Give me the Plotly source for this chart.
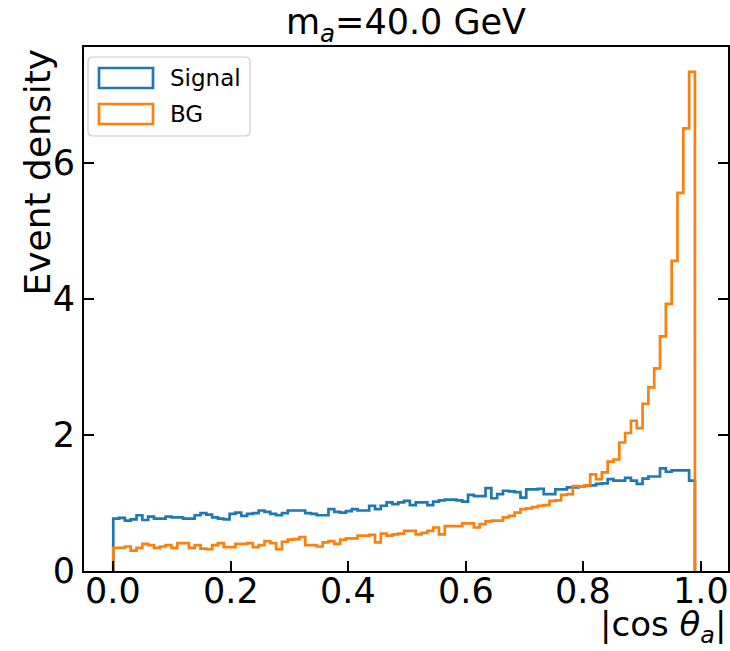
import numpy as np
import plotly.graph_objects as go

# ---- data ----
bin_lo = 0.0
bin_hi = 0.99
n_bins = 100

signal = [0.77, 0.78, 0.74, 0.76, 0.82, 0.75, 0.80, 0.77, 0.77, 0.80,
          0.79, 0.79, 0.77, 0.77, 0.82, 0.85, 0.83, 0.79, 0.77, 0.76,
          0.84, 0.86, 0.81, 0.84, 0.85, 0.89, 0.87, 0.84, 0.82, 0.85,
          0.89, 0.89, 0.89, 0.85, 0.84, 0.82, 0.82, 0.91, 0.87, 0.86,
          0.88, 0.91, 0.89, 0.89, 0.96, 0.91, 0.96, 1.01, 0.985, 1.01,
          1.03, 0.97, 1.01, 1.01, 0.97, 1.02, 1.04, 1.05, 1.05, 1.04,
          1.02, 1.12, 1.10, 1.10, 1.22, 1.07, 1.13, 1.18, 1.17, 1.16,
          1.08, 1.20, 1.20, 1.21, 1.13, 1.13, 1.20, 1.20, 1.23, 1.23,
          1.24, 1.25, 1.26, 1.28, 1.29, 1.35, 1.33, 1.33, 1.37, 1.33,
          1.28, 1.36, 1.39, 1.39, 1.51, 1.46, 1.48, 1.48, 1.48, 1.33]

bg = [0.34, 0.34, 0.36, 0.30, 0.34, 0.40, 0.38, 0.34, 0.36, 0.38,
      0.34, 0.41, 0.41, 0.34, 0.38, 0.33, 0.32, 0.38, 0.41, 0.35,
      0.35, 0.40, 0.40, 0.41, 0.35, 0.38, 0.44, 0.41, 0.32, 0.43,
      0.46, 0.47, 0.50, 0.38, 0.38, 0.36, 0.42, 0.44, 0.40, 0.46,
      0.48, 0.48, 0.52, 0.52, 0.53, 0.42, 0.55, 0.52, 0.54, 0.55,
      0.59, 0.59, 0.54, 0.56, 0.59, 0.64, 0.54, 0.66, 0.66, 0.66,
      0.70, 0.70, 0.64, 0.69, 0.73, 0.74, 0.74, 0.79, 0.81, 0.86,
      0.91, 0.92, 0.94, 0.96, 0.97, 1.03, 1.04, 1.12, 1.13, 1.25,
      1.24, 1.26, 1.42, 1.35, 1.45, 1.61, 1.64, 1.89, 2.03, 2.21,
      2.10, 2.46, 2.70, 2.98, 3.45, 3.93, 4.56, 5.56, 6.51, 7.34]

series_names = ["Signal", "BG"]
series_colors = ["#1f77b4", "#ff7f0e"]
x_ticks = [0.0, 0.2, 0.4, 0.6, 0.8, 1.0]
x_ticktext = ["0.0", "0.2", "0.4", "0.6", "0.8", "1.0"]
y_ticks = [0, 2, 4, 6]
y_ticktext = ["0", "2", "4", "6"]

# ---- figure geometry ----
W, H = 730, 651
ML, MR, MT, MB = 84, 2, 47, 80
PW, PH = W - ML - MR, H - MT - MB
FONT = "DejaVu Sans"


def px_x(px):
    return (px - ML) / PW


def px_y(py):
    return (H - MB - py) / PH


edges = np.linspace(bin_lo, bin_hi, n_bins + 1)


def step_xy(vals):
    vals = np.asarray(vals, dtype=float)
    x = np.concatenate([[edges[0]], edges[:-1], [edges[-1], edges[-1]]])
    y = np.concatenate([[0.0], vals, [vals[-1], 0.0]])
    return x, y


fig = go.Figure()
for name, vals, col in zip(series_names, [signal, bg], series_colors):
    x, y = step_xy(vals)
    fig.add_trace(go.Scatter(x=x, y=y, mode="lines", line=dict(color=col, width=2.7, shape="hv"),
                             name=name, showlegend=False, cliponaxis=True))

ymax = max(max(signal), max(bg)) * 1.05

fig.update_layout(
    width=W, height=H,
    margin=dict(l=ML, r=MR, t=MT, b=MB, pad=0, autoexpand=False),
    paper_bgcolor="white", plot_bgcolor="white",
    font=dict(family=FONT, color="black"),
    title=dict(text="m<sub><i>a</i></sub>=40.0 GeV", x=(ML + PW / 2) / W,
               xanchor="center", y=1 - 22 / H, yanchor="middle",
               font=dict(size=35, family=FONT, color="black")),
    showlegend=False,
)

fig.update_xaxes(range=[-0.0498, 1.0463], tickvals=x_ticks, ticktext=x_ticktext,
                 showticklabels=False,
                 ticks="inside", ticklen=10, tickwidth=1.6, tickcolor="black",
                 showline=True, linewidth=2, linecolor="black", mirror=True, automargin=False,
                 showgrid=False, zeroline=False)
fig.update_yaxes(range=[0, ymax], tickvals=y_ticks, ticktext=y_ticktext,
                 ticks="inside", ticklen=10, tickwidth=1.6, tickcolor="black",
                 showline=True, linewidth=2, linecolor="black", mirror="ticks", automargin=False,
                 showgrid=False, zeroline=False, tickfont=dict(size=35, family=FONT))

# x tick labels, placed tight under the axis as matplotlib does
for tv, tt in zip(x_ticks, x_ticktext):
    fig.add_annotation(text=tt, xref="x", yref="paper", x=tv, y=px_y(569),
                       xanchor="center", yanchor="top", showarrow=False,
                       font=dict(size=35, family=FONT))

# axis labels (matplotlib style: x label at right, y label at top)
fig.add_annotation(text="|cos <i>θ</i><sub><i>a</i></sub>|", xref="paper", yref="paper",
                   x=px_x(728), y=px_y(651), xanchor="right", yanchor="bottom",
                   showarrow=False, font=dict(size=34, family=FONT))
fig.add_annotation(text="Event density", xref="paper", yref="paper",
                   x=px_x(37), y=1.0, xanchor="center", yanchor="top", textangle=-90,
                   showarrow=False, font=dict(size=36, family=FONT))

# legend (matplotlib-like frame with outlined patches)
lx0, ly0, lx1, ly1, r = 88, 57, 250, 136, 5
path = (f"M {px_x(lx0 + r)} {px_y(ly0)} L {px_x(lx1 - r)} {px_y(ly0)} "
        f"Q {px_x(lx1)} {px_y(ly0)} {px_x(lx1)} {px_y(ly0 + r)} "
        f"L {px_x(lx1)} {px_y(ly1 - r)} Q {px_x(lx1)} {px_y(ly1)} {px_x(lx1 - r)} {px_y(ly1)} "
        f"L {px_x(lx0 + r)} {px_y(ly1)} Q {px_x(lx0)} {px_y(ly1)} {px_x(lx0)} {px_y(ly1 - r)} "
        f"L {px_x(lx0)} {px_y(ly0 + r)} Q {px_x(lx0)} {px_y(ly0)} {px_x(lx0 + r)} {px_y(ly0)} Z")
fig.add_shape(type="path", path=path, xref="paper", yref="paper",
              line=dict(color="#cccccc", width=1.2), fillcolor="rgba(255,255,255,0.8)")
for i, (name, col) in enumerate(zip(series_names, series_colors)):
    cy = 78 + i * 36
    fig.add_shape(type="rect", xref="paper", yref="paper",
                  x0=px_x(99), x1=px_x(153), y0=px_y(cy - 10), y1=px_y(cy + 10),
                  line=dict(color=col, width=2.7), fillcolor="rgba(0,0,0,0)")
    fig.add_annotation(text=name, xref="paper", yref="paper", x=px_x(168), y=px_y(cy),
                       xanchor="left", yanchor="middle", showarrow=False,
                       font=dict(size=23, family=FONT))

fig.write_html("out.html", config={"displayModeBar": False},
               post_script="document.body.style.margin='0';document.body.style.overflow='hidden';")
